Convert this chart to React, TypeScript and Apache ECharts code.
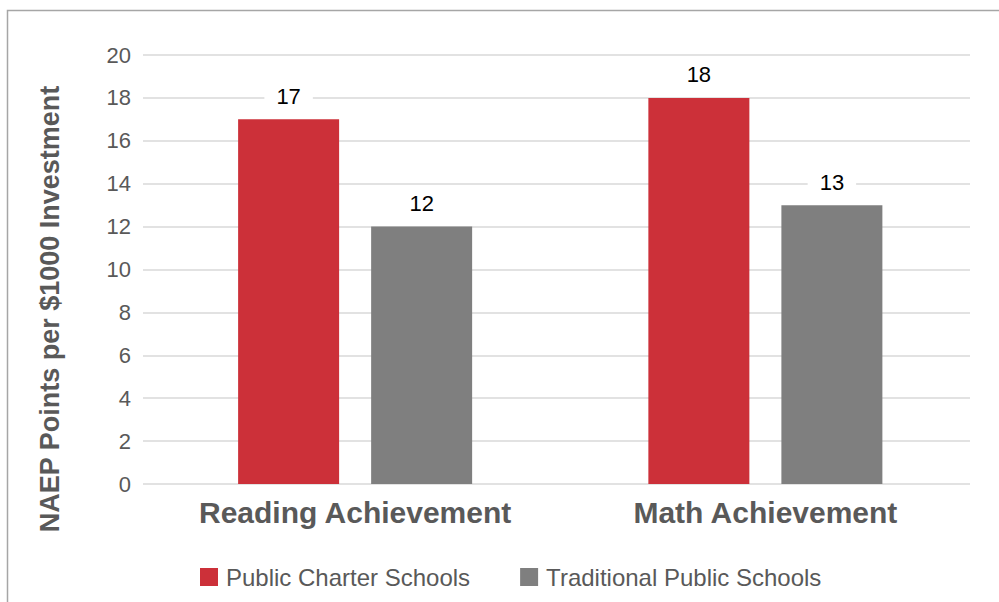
import React, { useEffect, useRef } from "react";
import * as echarts from "echarts";

const categories = ["Reading Achievement", "Math Achievement"];
const charterValues = [17, 18];
const traditionalValues = [12, 13];
const seriesNames = ["Public Charter Schools", "Traditional Public Schools"];
const yTicks = { min: 0, max: 20, interval: 2 };
const yAxisTitle = "NAEP Points per $1000 Investment";

const FONT = "'Liberation Sans', Arial, sans-serif";

export default function App() {
  const ref = useRef<HTMLDivElement>(null);
  useEffect(() => {
    if (!ref.current) return;
    const chart = echarts.init(ref.current, undefined, { renderer: "svg" });
    const label = {
      show: true,
      position: "top",
      distance: 10,
      color: "#000",
      fontSize: 22,
      fontFamily: FONT,
      backgroundColor: "#fff",
      padding: [2, 12, 2, 12],
    };
    chart.setOption({
      animation: false,
      textStyle: { fontFamily: FONT },
      graphic: [
        {
          type: "rect",
          shape: { x: 7.5, y: 10.5, width: 1100, height: 700 },
          style: { fill: "none", stroke: "#a6a6a6", lineWidth: 1.5 },
          z: -10,
        },
        {
          type: "text",
          x: 50,
          y: 309,
          rotation: Math.PI / 2,
          style: {
            text: yAxisTitle,
            fontSize: 27,
            fontWeight: "bold",
            fill: "#595959",
            fontFamily: FONT,
            align: "center",
            verticalAlign: "middle",
          },
        },
      ],
      grid: [
        { left: 143, right: 29, top: 55, bottom: 118, containLabel: false },
        { left: 150, right: 28.5, top: 55, bottom: 118, containLabel: false },
      ],
      legend: {
        data: seriesNames,
        top: 560,
        left: 195,
        itemWidth: 18,
        itemHeight: 18,
        itemGap: 50,
        icon: "rect",
        textStyle: { fontSize: 24, color: "#595959", fontFamily: FONT, padding: [0, 0, 0, 3] },
      },
      xAxis: [
        { type: "category", gridIndex: 0, data: categories, show: false },
        {
          type: "category",
          gridIndex: 1,
          data: categories,
          axisLine: { show: false },
          axisTick: { show: false },
          axisLabel: {
            fontSize: 30,
            fontWeight: "bold",
            color: "#595959",
            margin: 13,
            fontFamily: FONT,
          },
        },
      ],
      yAxis: [
        {
          type: "value",
          gridIndex: 0,
          min: yTicks.min,
          max: yTicks.max,
          interval: yTicks.interval,
          axisLine: { show: false },
          axisTick: { show: false },
          splitLine: { lineStyle: { color: "#d9d9d9", width: 1.5 } },
          axisLabel: { fontSize: 22, color: "#595959", margin: 12, fontFamily: FONT },
        },
        {
          type: "value",
          gridIndex: 1,
          min: yTicks.min,
          max: yTicks.max,
          interval: yTicks.interval,
          show: false,
          splitLine: { show: false },
        },
      ],
      series: [
        {
          name: seriesNames[0],
          type: "bar",
          xAxisIndex: 1,
          yAxisIndex: 1,
          data: charterValues,
          itemStyle: { color: "#cc3039" },
          barWidth: 101,
          barGap: "31.7%",
          label,
        },
        {
          name: seriesNames[1],
          type: "bar",
          xAxisIndex: 1,
          yAxisIndex: 1,
          data: traditionalValues,
          itemStyle: { color: "#7f7f7f" },
          barWidth: 101,
          label,
        },
      ],
    });
    return () => chart.dispose();
  }, []);
  return (
    <div
      ref={ref}
      style={{ position: "fixed", left: 0, top: 0, width: 999, height: 602, background: "#fff" }}
    />
  );
}
